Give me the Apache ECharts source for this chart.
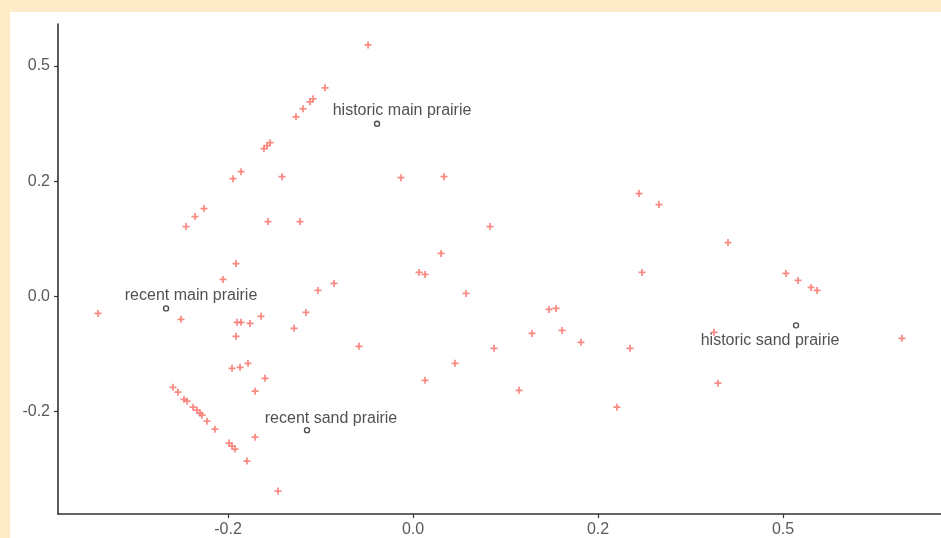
<!DOCTYPE html>
<html>
<head>
<meta charset="utf-8">
<script src="https://cdn.jsdelivr.net/npm/echarts@6/dist/echarts.min.js"></script>
<style>
  html, body { margin: 0; padding: 0; background: #FEEBC8; }
  #panel { position: absolute; left: 10px; top: 12px; width: 931px; height: 526px; background: #ffffff; }
  #chart { position: absolute; left: 0; top: 0; width: 941px; height: 538px; }
</style>
</head>
<body>
<div id="panel"></div>
<div id="chart"></div>
<script>
// Site scores (axis 1, axis 2)
const siteX = [
  -0.0486, -0.0951, -0.1081, -0.1114, -0.1189, -0.1265, -0.1546, -0.1578, -0.1611, -0.1859,
  -0.1946, -0.1416, -0.2259, -0.2357, -0.2454, -0.1568, -0.1222, -0.1914, -0.2054, -0.1027,
  -0.0854, -0.2508, -0.1903, -0.1859, -0.1762, -0.1643, -0.1157, -0.1286, -0.1914, -0.1957,
  -0.1870, -0.1784, -0.1600, -0.1708, -0.1708, -0.1795, -0.1459, -0.3405,
  -0.2595, -0.2541, -0.2476, -0.2443, -0.2378, -0.2335, -0.2303, -0.2281, -0.2227, -0.2141,
  -0.1989, -0.1957, -0.1924,
  -0.0130, 0.0335, 0.0832, 0.0303, 0.0065, 0.0130, 0.0573, 0.1470, 0.1546, 0.1286,
  0.1611, 0.1816, -0.0584, 0.0876, 0.0454, 0.0130, 0.1146, 0.2205,
  0.2443, 0.2659, 0.3405, 0.2476, 0.4032, 0.4162, 0.4303, 0.4368, 0.3254, 0.5286,
  0.2346, 0.3297
];
const siteY = [
  0.4364, 0.3619, 0.3429, 0.3377, 0.3255, 0.3117, 0.2667, 0.2615, 0.2563, 0.2165,
  0.2043, 0.2078, 0.1524, 0.1385, 0.1212, 0.1299, 0.1299, 0.0571, 0.0294, 0.0104,
  0.0225, -0.0398, -0.0450, -0.0450, -0.0468, -0.0346, -0.0277, -0.0554, -0.0693, -0.1247,
  -0.1229, -0.1160, -0.1420, -0.1645, -0.2442, -0.2857, -0.3377, -0.0294,
  -0.1576, -0.1662, -0.1784, -0.1818, -0.1922, -0.1974, -0.2026, -0.2061, -0.2165, -0.2303,
  -0.2545, -0.2597, -0.2649,
  0.2061, 0.2078, 0.1212, 0.0745, 0.0416, 0.0381, 0.0052, -0.0225, -0.0208, -0.0641,
  -0.0589, -0.0797, -0.0866, -0.0900, -0.1160, -0.1455, -0.1628, -0.1922,
  0.1784, 0.1593, 0.0935, 0.0416, 0.0398, 0.0277, 0.0156, 0.0104, -0.0623, -0.0727,
  -0.0900, -0.1506
];

// Group centroids
const groupNames = ['historic main prairie', 'recent main prairie', 'recent sand prairie', 'historic sand prairie'];
const groupX = [-0.0389, -0.2670, -0.1146, 0.4141];
const groupY = [0.2996, -0.0208, -0.2320, -0.0502];

// Tick positions and their printed labels
const xTickValues = [-0.2, 0.0, 0.2, 0.4];
const xTickLabels = ['-0.2', '0.0', '0.2', '0.5'];
const yTickValues = [-0.2, 0.0, 0.2, 0.4];
const yTickLabels = ['-0.2', '0.0', '0.2', '0.5'];

const labelOffsets = [[25, -13], [25, -13], [24, -12], [-26, 15]];

function tickText(values, labels) {
  return function (v) {
    for (let i = 0; i < values.length; i++) {
      if (Math.abs(values[i] - v) < 1e-6) return labels[i];
    }
    return '';
  };
}

const plusPath = 'path://M3,0H5V3H8V5H5V8H3V5H0V3H3Z';

const chart = echarts.init(document.getElementById('chart'), null, { renderer: 'canvas' });

const axisCommon = {
  type: 'value',
  splitLine: { show: false },
  axisLine: { show: true, onZero: false, lineStyle: { color: '#333333', width: 1.6 } },
  axisTick: { show: true, length: 4, lineStyle: { color: '#333333', width: 1.2 } },
  axisLabel: { color: '#5a5a5a', fontSize: 16, fontFamily: 'Liberation Sans, Arial, sans-serif', margin: 8 }
};

chart.setOption({
  backgroundColor: 'transparent',
  animation: false,
  grid: { left: 58, right: 0, top: 24, bottom: 23, containLabel: false },
  xAxis: Object.assign({}, axisCommon, {
    min: -0.3838, max: 0.5708,
    axisTick: Object.assign({}, axisCommon.axisTick, { customValues: xTickValues }),
    axisLabel: Object.assign({}, axisCommon.axisLabel, {
      customValues: xTickValues, formatter: tickText(xTickValues, xTickLabels), margin: 8
    })
  }),
  yAxis: Object.assign({}, axisCommon, {
    min: -0.3775, max: 0.4727,
    axisTick: Object.assign({}, axisCommon.axisTick, { customValues: yTickValues }),
    axisLabel: Object.assign({}, axisCommon.axisLabel, {
      customValues: yTickValues, formatter: tickText(yTickValues, yTickLabels)
    })
  }),
  series: [
    {
      name: 'sites',
      type: 'scatter',
      symbol: plusPath,
      symbolSize: 7,
      itemStyle: { color: '#F8766D', opacity: 0.85 },
      data: siteX.map((x, i) => [x, siteY[i]]),
      z: 2
    },
    {
      name: 'groups',
      type: 'scatter',
      symbol: 'circle',
      symbolSize: 5,
      itemStyle: { color: '#ffffff', borderColor: '#222222', borderWidth: 1.4 },
      data: groupX.map((x, i) => ({
        value: [x, groupY[i]],
        name: groupNames[i],
        label: { offset: labelOffsets[i] }
      })),
      label: {
        show: true,
        position: 'inside',
        formatter: p => p.name,
        color: '#262626',
        fontSize: 16,
        fontFamily: 'Liberation Sans, Arial, sans-serif'
      },
      z: 3
    }
  ]
});
</script>
</body>
</html>
